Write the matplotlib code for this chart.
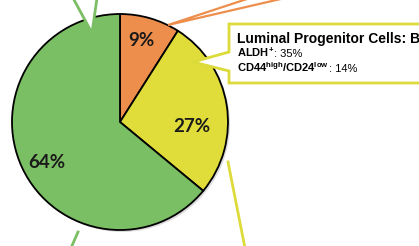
import matplotlib
matplotlib.use("Agg")
import matplotlib.pyplot as plt
from matplotlib.patches import Polygon, Circle

# Data
labels = ["9%", "27%", "64%"]
values = [9, 27, 64]
colors = ["#ee8e4c", "#e0dd3b", "#7bbf64"]
box_title = "Luminal Progenitor Cells: B"
box_bold = [r"$\mathbf{ALDH^{+}}$", r"$\mathbf{CD44^{high}/CD24^{low}}$"]
box_rest = [": 35%", ": 14%"]

plt.rcParams['mathtext.fontset'] = 'custom'
plt.rcParams['mathtext.rm'] = 'Liberation Sans'
plt.rcParams['mathtext.bf'] = 'Liberation Sans:bold'
plt.rcParams['mathtext.it'] = 'Liberation Sans:italic'

fig = plt.figure(figsize=(4.19, 2.46), dpi=100)
ax = fig.add_axes([0, 0, 1, 1])

# subtle shadow
ax.add_patch(Circle((122, 124), 108, facecolor='#bbbbbb', edgecolor='none', alpha=0.5, zorder=1))

wedges, _ = ax.pie(values, colors=colors, startangle=-90, counterclock=True,
                   center=(120, 122), radius=108, frame=True,
                   wedgeprops=dict(edgecolor='black', linewidth=1.3, zorder=2))
ax.set_xlim(0, 419)
ax.set_ylim(246, 0)
ax.set_aspect('equal')
ax.axis('off')

pos = [(141, 40), (192, 126), (47, 163)]
for (x, y), t in zip(pos, labels):
    ax.text(x, y, t, ha='center', va='center', fontsize=13.5, family='Lato',
            fontweight='bold', color='#1a1a1a', zorder=5)

# green pointer at top
ax.add_patch(Polygon([(73, -2), (92, 33), (97, -2)], closed=False,
                     facecolor='white', edgecolor='#7bbf64', linewidth=2, zorder=4))
# orange pointer
ax.add_patch(Polygon([(250, -2), (168, 25), (285, -2)], closed=False,
                     facecolor='white', edgecolor='#ee8e4c', linewidth=1.6, zorder=4))
# yellow box with pointer
ax.add_patch(Polygon([(430, 24), (229, 24), (229, 52), (193, 62), (229, 71),
                      (229, 83), (430, 83)], closed=True,
                     facecolor='white', edgecolor='#dcdb3a', linewidth=2, zorder=4))
# lines at bottom
ax.plot([228, 245], [162, 248], color='#dcdb3a', linewidth=2, zorder=4)
ax.plot([78, 71], [232, 248], color='#7bbf64', linewidth=2, zorder=4)

ax.text(237, 43, box_title, fontsize=10, family='Liberation Sans', fontweight='bold',
        va='baseline', ha='left', zorder=6)
for yb, b, r in zip([57, 72], box_bold, box_rest):
    tb = ax.text(237, yb, b, fontsize=8, va='baseline', ha='left', zorder=6)
    ax.annotate(r, xy=(1, 0), xycoords=tb, xytext=(0, 0), textcoords='offset points',
                fontsize=8, family='Liberation Sans', va='bottom', ha='left', zorder=6)

fig.savefig("out.png", dpi=100)
